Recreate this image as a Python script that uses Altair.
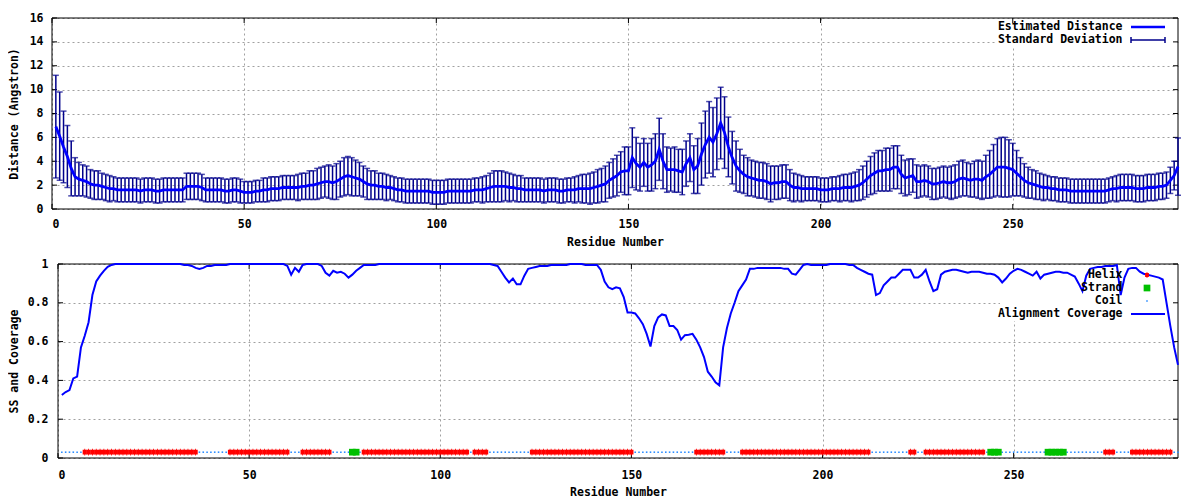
import altair as alt
import pandas as pd

# ---------------- data ----------------
residues = list(range(1, 294))

distance = [
    6.9, 6.1, 5.2, 4.4, 3.4, 2.7, 2.5, 2.4, 2.3, 2.1,
    2.0, 2.0, 1.9, 1.8, 1.7, 1.7, 1.6, 1.6, 1.6, 1.6,
    1.6, 1.6, 1.5, 1.6, 1.6, 1.6, 1.5, 1.5, 1.6, 1.6,
    1.6, 1.6, 1.6, 1.6, 1.9, 1.9, 1.9, 1.9, 1.8, 1.6,
    1.6, 1.6, 1.6, 1.6, 1.5, 1.5, 1.6, 1.6, 1.5, 1.4,
    1.4, 1.4, 1.5, 1.5, 1.6, 1.6, 1.7, 1.7, 1.7, 1.8,
    1.8, 1.8, 1.8, 1.8, 1.9, 1.9, 2.0, 2.0, 2.1, 2.2,
    2.3, 2.3, 2.2, 2.3, 2.5, 2.7, 2.8, 2.7, 2.6, 2.5,
    2.3, 2.1, 2.0, 2.0, 1.9, 1.9, 1.8, 1.8, 1.7, 1.6,
    1.6, 1.5, 1.5, 1.5, 1.5, 1.5, 1.5, 1.5, 1.4, 1.4,
    1.4, 1.4, 1.5, 1.5, 1.5, 1.5, 1.5, 1.5, 1.5, 1.6,
    1.6, 1.6, 1.7, 1.8, 1.9, 1.9, 1.9, 1.9, 1.8, 1.8,
    1.7, 1.7, 1.6, 1.6, 1.6, 1.6, 1.6, 1.5, 1.6, 1.6,
    1.6, 1.5, 1.5, 1.6, 1.6, 1.6, 1.7, 1.7, 1.7, 1.7,
    1.8, 1.9, 2.0, 2.1, 2.4, 2.6, 2.8, 3.1, 3.2, 3.2,
    4.3, 3.8, 3.5, 3.9, 3.5, 3.7, 4.0, 5.0, 4.0, 3.3,
    3.3, 3.3, 3.2, 3.1, 3.8, 4.3, 3.3, 3.6, 4.6, 5.4,
    6.0, 5.6, 6.3, 7.2, 6.4, 5.2, 4.3, 3.6, 3.2, 2.9,
    2.7, 2.6, 2.5, 2.4, 2.4, 2.3, 2.1, 2.2, 2.2, 2.3,
    2.3, 2.0, 1.8, 1.8, 1.7, 1.7, 1.7, 1.7, 1.7, 1.6,
    1.6, 1.6, 1.7, 1.7, 1.7, 1.8, 1.8, 1.8, 1.9, 2.0,
    2.2, 2.5, 2.8, 3.0, 3.2, 3.2, 3.3, 3.3, 3.5, 3.5,
    2.9, 2.6, 2.7, 2.8, 2.3, 2.3, 2.4, 2.3, 2.1, 2.1,
    2.2, 2.3, 2.2, 2.2, 2.3, 2.5, 2.6, 2.5, 2.4, 2.5,
    2.5, 2.4, 2.7, 2.9, 3.2, 3.5, 3.5, 3.5, 3.4, 3.3,
    3.0, 2.7, 2.4, 2.2, 2.1, 2.0, 1.9, 1.8, 1.8, 1.7,
    1.7, 1.6, 1.6, 1.6, 1.5, 1.5, 1.5, 1.5, 1.5, 1.5,
    1.5, 1.5, 1.5, 1.5, 1.6, 1.7, 1.7, 1.8, 1.8, 1.8,
    1.8, 1.7, 1.7, 1.7, 1.8, 1.8, 1.8, 1.9, 1.9, 2.0,
    2.4, 2.8, 3.55,
]

std_dev = [
    4.3, 3.7, 3.0, 2.6, 2.3, 1.6, 1.4, 1.3, 1.3, 1.2,
    1.2, 1.2, 1.1, 1.1, 1.1, 1.0, 1.0, 1.0, 1.0, 1.0,
    1.0, 1.0, 1.0, 1.0, 1.0, 1.0, 1.0, 1.0, 1.0, 1.0,
    1.0, 1.0, 1.0, 1.0, 1.1, 1.1, 1.1, 1.1, 1.1, 1.0,
    1.0, 1.0, 1.0, 1.0, 1.0, 1.0, 1.0, 1.0, 1.0, 0.9,
    0.9, 0.9, 0.9, 0.9, 1.0, 1.0, 1.0, 1.0, 1.0, 1.0,
    1.0, 1.0, 1.0, 1.1, 1.1, 1.1, 1.2, 1.2, 1.3, 1.3,
    1.3, 1.4, 1.4, 1.5, 1.5, 1.6, 1.6, 1.6, 1.5, 1.4,
    1.3, 1.3, 1.2, 1.2, 1.1, 1.1, 1.1, 1.0, 1.0, 1.0,
    1.0, 1.0, 1.0, 1.0, 1.0, 1.0, 1.0, 1.0, 1.0, 1.0,
    1.0, 1.0, 1.0, 1.0, 1.0, 1.0, 1.0, 1.0, 1.0, 1.0,
    1.0, 1.1, 1.1, 1.2, 1.3, 1.3, 1.3, 1.2, 1.2, 1.1,
    1.1, 1.1, 1.0, 1.0, 1.0, 1.0, 1.0, 1.0, 1.0, 1.0,
    1.0, 1.0, 1.0, 1.0, 1.0, 1.1, 1.1, 1.2, 1.2, 1.3,
    1.3, 1.4, 1.4, 1.5, 1.5, 1.6, 1.7, 1.7, 2.0, 2.0,
    2.5, 2.2, 2.0, 2.0, 2.0, 2.2, 2.3, 2.6, 2.3, 1.9,
    1.8, 1.9, 1.8, 1.9, 1.9, 2.0, 2.0, 2.3, 2.6, 2.8,
    3.0, 2.9, 3.0, 3.0, 3.0, 2.5, 2.2, 2.1, 1.8, 1.6,
    1.6, 1.5, 1.5, 1.5, 1.5, 1.5, 1.5, 1.4, 1.4, 1.4,
    1.4, 1.3, 1.2, 1.1, 1.1, 1.0, 1.0, 1.0, 1.0, 1.0,
    1.0, 1.0, 1.0, 1.0, 1.1, 1.1, 1.1, 1.2, 1.2, 1.3,
    1.4, 1.5, 1.6, 1.7, 1.7, 1.7, 1.8, 1.8, 1.8, 1.8,
    1.6, 1.5, 1.5, 1.4, 1.4, 1.3, 1.3, 1.3, 1.3, 1.3,
    1.3, 1.3, 1.3, 1.4, 1.4, 1.5, 1.5, 1.4, 1.4, 1.5,
    1.6, 1.6, 1.8, 2.0, 2.2, 2.4, 2.5, 2.5, 2.4, 2.2,
    1.9, 1.6, 1.4, 1.3, 1.2, 1.2, 1.1, 1.1, 1.0, 1.0,
    1.0, 1.0, 1.0, 1.0, 1.0, 1.0, 1.0, 1.0, 1.0, 1.0,
    1.0, 1.0, 1.0, 1.0, 1.0, 1.0, 1.1, 1.1, 1.1, 1.1,
    1.1, 1.1, 1.1, 1.1, 1.1, 1.1, 1.1, 1.1, 1.1, 1.1,
    1.1, 1.2, 2.4,
]

coverage = [
    0.325, 0.34, 0.35, 0.41, 0.42, 0.57, 0.63, 0.70, 0.84, 0.91,
    0.94, 0.965, 0.985, 0.995, 1.0, 1.0, 1.0, 1.0, 1.0, 1.0,
    1.0, 1.0, 1.0, 1.0, 1.0, 1.0, 1.0, 1.0, 1.0, 1.0,
    1.0, 1.0, 0.995, 0.995, 0.99, 0.98, 0.975, 0.98, 0.99, 0.99,
    0.995, 0.995, 0.995, 0.995, 1.0, 1.0, 1.0, 1.0, 1.0, 1.0,
    1.0, 1.0, 1.0, 1.0, 1.0, 1.0, 1.0, 1.0, 1.0, 0.99,
    0.945, 0.98, 0.96, 0.995, 1.0, 1.0, 1.0, 1.0, 0.99, 0.955,
    0.94, 0.965, 0.955, 0.96, 0.95, 0.93, 0.945, 0.965, 0.98, 0.995,
    0.995, 0.995, 0.995, 1.0, 1.0, 1.0, 1.0, 1.0, 1.0, 1.0,
    1.0, 1.0, 1.0, 1.0, 1.0, 1.0, 1.0, 1.0, 1.0, 1.0,
    1.0, 1.0, 1.0, 1.0, 1.0, 1.0, 1.0, 1.0, 1.0, 1.0,
    1.0, 1.0, 1.0, 0.995, 0.99, 0.96, 0.93, 0.905, 0.925, 0.895,
    0.895, 0.94, 0.975, 0.98, 0.985, 0.99, 0.99, 0.99, 0.995, 0.995,
    0.995, 0.995, 0.995, 1.0, 1.0, 1.0, 1.0, 0.995, 0.995, 0.995,
    0.995, 0.97, 0.91, 0.88, 0.87, 0.88, 0.875, 0.83, 0.75, 0.75,
    0.745, 0.72, 0.69, 0.64, 0.575, 0.68, 0.725, 0.74, 0.735, 0.68,
    0.68, 0.66, 0.61, 0.633, 0.635, 0.64, 0.61, 0.57, 0.52, 0.445,
    0.42, 0.39, 0.375, 0.57, 0.67, 0.745, 0.80, 0.86, 0.89, 0.92,
    0.975, 0.975, 0.98, 0.98, 0.98, 0.98, 0.98, 0.98, 0.98, 0.975,
    0.975, 0.95, 0.945, 0.97, 0.995, 1.0, 0.995, 0.995, 0.995, 0.995,
    0.995, 1.0, 1.0, 1.0, 1.0, 1.0, 0.995, 0.995, 0.98, 0.97,
    0.96, 0.95, 0.945, 0.84, 0.85, 0.89, 0.91, 0.93, 0.93, 0.95,
    0.97, 0.97, 0.97, 0.93, 0.93, 0.945, 0.97, 0.91, 0.86, 0.87,
    0.945, 0.96, 0.965, 0.97, 0.97, 0.965, 0.96, 0.955, 0.96, 0.96,
    0.96, 0.955, 0.95, 0.95, 0.945, 0.93, 0.905, 0.925, 0.95, 0.965,
    0.975, 0.97, 0.96, 0.95, 0.94, 0.96, 0.925, 0.945, 0.95, 0.955,
    0.96, 0.96, 0.955, 0.955, 0.945, 0.935, 0.90, 0.86, 0.94, 0.975,
    0.98, 0.985, 0.985, 0.99, 0.99, 0.99, 0.995, 0.84, 0.93, 0.975,
    0.98, 0.98, 0.96, 0.95, 0.945, 0.94, 0.935, 0.93, 0.92, 0.80,
    0.68, 0.57, 0.48,
]

helix_ranges = [(7, 36), (45, 60), (64, 71), (80, 107), (109, 112), (124, 150),
                (167, 174), (179, 212), (223, 224), (227, 242), (274, 276), (281, 291)]
strand_ranges = [(77, 78), (244, 246), (259, 263)]
ss_level = 0.03

x_ticks = [0, 50, 100, 150, 200, 250]
dist_ticks = [0, 2, 4, 6, 8, 10, 12, 14, 16]
cov_ticks = [0, 0.2, 0.4, 0.6, 0.8, 1.0]

# ---------------- tables ----------------
n = len(residues)
dist_df = pd.DataFrame({
    "res": residues[:n],
    "mean": distance[:n],
    "sd": std_dev[:n],
})
dist_df["lo"] = dist_df["mean"] - dist_df["sd"]
dist_df["hi"] = dist_df["mean"] + dist_df["sd"]

ss = ["Coil"] * n
for a, b in helix_ranges:
    for r in range(a, b + 1):
        ss[r - 1] = "Helix"
for a, b in strand_ranges:
    for r in range(a, b + 1):
        ss[r - 1] = "Strand"
ss_df = pd.DataFrame({"res": residues, "ss": ss, "lvl": [ss_level] * n})
cov_df = pd.DataFrame({"res": residues, "cov": coverage[:n]})

dummy = pd.DataFrame({"a": [0]})

FONT = "DejaVu Sans Mono"
BLUE = "#0000ff"
EBAR = "#00008b"
RED = "#ff0000"
GREEN = "#00c000"
COIL = "#2a8cff"
LFS = 11.5

W, SHIFT = 1120, 6   # both plot groups share the same left edge; the top frame reaches 6px further left
H1, H2 = 191, 194
TX = 1064.5           # right edge of legend texts
LX1, LX2, SX = 1073, 1107, 1089


def txt(label, y):
    return alt.Chart(dummy).mark_text(
        text=label, align="right", baseline="middle", font=FONT,
        fontWeight="bold", fontSize=LFS, color="black").encode(x=alt.value(TX), y=alt.value(y))


# ---------------- top panel ----------------
xs1 = alt.Scale(domain=[0, 293], nice=False, zero=False, range=[-SHIFT, W])
ys1 = alt.Scale(domain=[0, 16], nice=False, zero=False)
xax1 = alt.Axis(values=x_ticks, title="Residue Number", format="d", labelPadding=9, titlePadding=7)
yax1 = alt.Axis(values=dist_ticks, title="Distance (Angstron)", format="d",
                labelPadding=9, titlePadding=10, offset=SHIFT)


def X1(f):
    return alt.X(f, type="quantitative", scale=xs1, axis=xax1)


def Y1(f):
    return alt.Y(f, type="quantitative", scale=ys1, axis=yax1)


ytk1 = pd.DataFrame({"v": dist_ticks})
xtk = pd.DataFrame({"v": x_ticks})

top_layers = [
    alt.Chart(dummy).mark_rect(color="white").encode(
        x=alt.value(939), x2=alt.value(W - 1), y=alt.value(1), y2=alt.value(29)),
    alt.Chart(dummy).mark_rect(fillOpacity=0, stroke="black", strokeWidth=1).encode(
        x=alt.value(-SHIFT), x2=alt.value(W), y=alt.value(0), y2=alt.value(H1)),
    alt.Chart(ytk1).mark_rule(color="black").encode(y=Y1("v"), x=alt.value(-SHIFT), x2=alt.value(-SHIFT + 5)),
    alt.Chart(ytk1).mark_rule(color="black").encode(y=Y1("v"), x=alt.value(W - 5), x2=alt.value(W)),
    alt.Chart(xtk).mark_rule(color="black").encode(x=X1("v"), y=alt.value(H1), y2=alt.value(H1 - 5)),
    alt.Chart(xtk).mark_rule(color="black").encode(x=X1("v"), y=alt.value(0), y2=alt.value(5)),
    alt.Chart(dist_df).mark_rule(color=EBAR, strokeWidth=1.5).encode(x=X1("res"), y=Y1("lo"), y2="hi"),
    alt.Chart(dist_df).mark_tick(color=EBAR, orient="horizontal", size=6, thickness=1.5).encode(x=X1("res"), y=Y1("lo")),
    alt.Chart(dist_df).mark_tick(color=EBAR, orient="horizontal", size=6, thickness=1.5).encode(x=X1("res"), y=Y1("hi")),
    alt.Chart(dist_df).mark_line(color=BLUE, strokeWidth=2.8).encode(x=X1("res"), y=Y1("mean")),
    # legend
    txt("Estimated Distance", 9),
    alt.Chart(dummy).mark_rule(color=BLUE, strokeWidth=2.5).encode(
        x=alt.value(LX1), x2=alt.value(LX2), y=alt.value(9)),
    txt("Standard Deviation", 22),
    alt.Chart(dummy).mark_rule(color=EBAR, strokeWidth=1.5).encode(
        x=alt.value(LX1), x2=alt.value(LX2), y=alt.value(22)),
    alt.Chart(dummy).mark_rule(color=EBAR, strokeWidth=1.5).encode(
        x=alt.value(LX1), y=alt.value(19), y2=alt.value(25)),
    alt.Chart(dummy).mark_rule(color=EBAR, strokeWidth=1.5).encode(
        x=alt.value(LX2), y=alt.value(19), y2=alt.value(25)),
]
top = alt.layer(*top_layers).properties(width=W, height=H1)

# ---------------- bottom panel ----------------
xs2 = alt.Scale(domain=[0, 293], nice=False, zero=False)
ys2 = alt.Scale(domain=[0, 1], nice=False, zero=False)
xax2 = alt.Axis(values=x_ticks, title="Residue Number", format="d", labelPadding=11, titlePadding=6)
yax2 = alt.Axis(values=cov_ticks, title="SS and Coverage", format="~g", labelPadding=10, titlePadding=8)


def X2(f):
    return alt.X(f, type="quantitative", scale=xs2, axis=xax2)


def Y2(f):
    return alt.Y(f, type="quantitative", scale=ys2, axis=yax2)


ytk2 = pd.DataFrame({"v": cov_ticks})
helix_shape = "M-0.6,-0.66H0.6V0.66H-0.6Z M-0.12,-0.95H0.12V0.95H-0.12Z"

bot_layers = [
    alt.Chart(dummy).mark_rect(color="white").encode(
        x=alt.value(942), x2=alt.value(W - 1), y=alt.value(1), y2=alt.value(57)),
    alt.Chart(dummy).mark_rect(fillOpacity=0, stroke="black", strokeWidth=1).encode(
        x=alt.value(0), x2=alt.value(W), y=alt.value(0), y2=alt.value(H2)),
    alt.Chart(ytk2).mark_rule(color="black").encode(y=Y2("v"), x=alt.value(0), x2=alt.value(5)),
    alt.Chart(ytk2).mark_rule(color="black").encode(y=Y2("v"), x=alt.value(W - 5), x2=alt.value(W)),
    alt.Chart(xtk).mark_rule(color="black").encode(x=X2("v"), y=alt.value(H2), y2=alt.value(H2 - 5)),
    alt.Chart(xtk).mark_rule(color="black").encode(x=X2("v"), y=alt.value(0), y2=alt.value(5)),
    alt.Chart(ss_df).transform_filter(alt.datum.ss == "Coil").mark_square(
        color=COIL, size=2.5, opacity=1).encode(x=X2("res"), y=Y2("lvl")),
    alt.Chart(ss_df).transform_filter(alt.datum.ss == "Helix").mark_point(
        shape=helix_shape, filled=True, color=RED, size=49, opacity=1).encode(x=X2("res"), y=Y2("lvl")),
    alt.Chart(ss_df).transform_filter(alt.datum.ss == "Strand").mark_square(
        color=GREEN, size=45, opacity=1).encode(x=X2("res"), y=Y2("lvl")),
    alt.Chart(cov_df).mark_line(color=BLUE, strokeWidth=2).encode(x=X2("res"), y=Y2("cov")),
    # legend
    txt("Helix", 11),
    alt.Chart(dummy).mark_point(shape=helix_shape, filled=True, color=RED, size=40, opacity=1).encode(
        x=alt.value(SX), y=alt.value(11)),
    txt("Strand", 24),
    alt.Chart(dummy).mark_square(color=GREEN, size=45, opacity=1).encode(
        x=alt.value(SX), y=alt.value(24)),
    txt("Coil", 37),
    alt.Chart(dummy).mark_square(color=COIL, size=2.5, opacity=1).encode(
        x=alt.value(SX), y=alt.value(37)),
    txt("Alignment Coverage", 50),
    alt.Chart(dummy).mark_rule(color=BLUE, strokeWidth=2).encode(
        x=alt.value(LX1), x2=alt.value(LX2), y=alt.value(50)),
]
bottom = alt.layer(*bot_layers).properties(width=W, height=H2)

chart = alt.vconcat(top, bottom, spacing=10).properties(
    padding={"left": 0, "top": 4, "right": 5, "bottom": 0}
).configure_view(
    strokeOpacity=0
).configure_axis(
    labelFont=FONT, labelFontWeight="bold", labelFontSize=11.5, labelColor="black",
    titleFont=FONT, titleFontWeight="bold", titleFontSize=11.5, titleColor="black",
    grid=True, gridColor="#a0a0a0", gridDash=[2, 3], gridWidth=1,
    ticks=False, domain=False,
)

chart.save("out.html", embed_options={"renderer": "svg", "actions": False})
